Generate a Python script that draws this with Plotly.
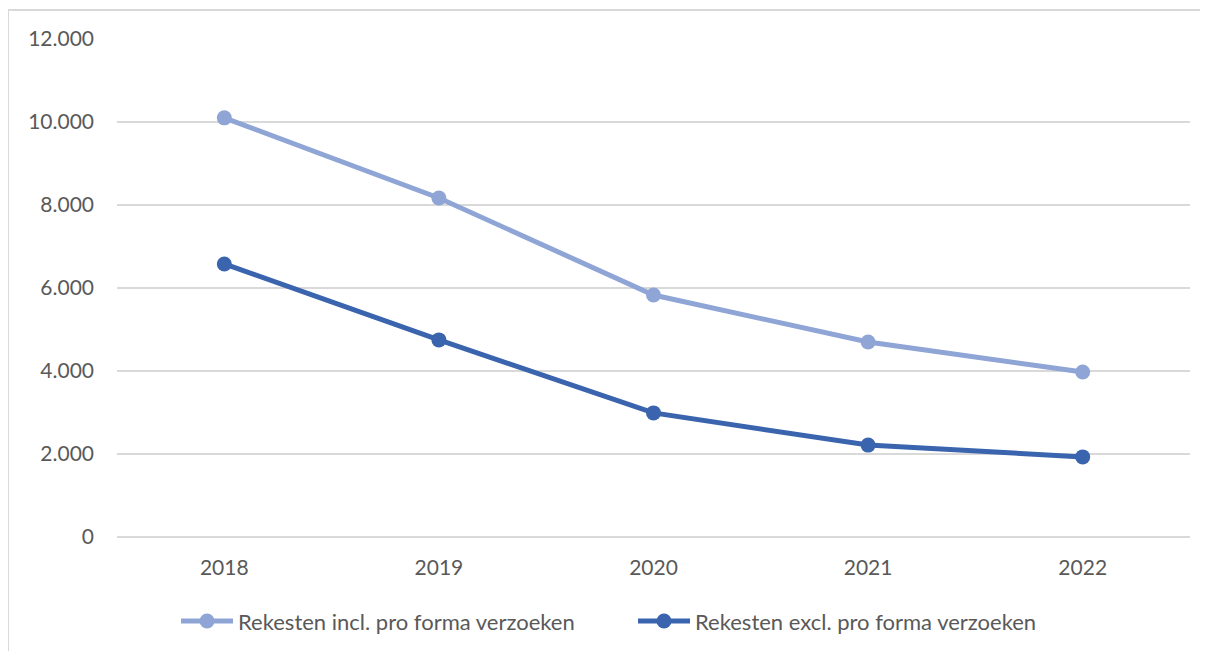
import plotly.graph_objects as go

years = ["2018", "2019", "2020", "2021", "2022"]
incl_pro_forma = [10100, 8170, 5830, 4700, 3975]
excl_pro_forma = [6580, 4750, 2990, 2215, 1930]
y_ticks = [0, 2000, 4000, 6000, 8000, 10000, 12000]
y_labels = ["0", "2.000", "4.000", "6.000", "8.000", "10.000", "12.000"]

fig = go.Figure()
fig.add_trace(go.Scatter(
    x=years, y=incl_pro_forma, mode="lines+markers",
    name="Rekesten incl. pro forma verzoeken",
    line=dict(color="#8FA5D6", width=5),
    marker=dict(size=15, color="#8FA5D6"),
))
fig.add_trace(go.Scatter(
    x=years, y=excl_pro_forma, mode="lines+markers",
    name="Rekesten excl. pro forma verzoeken",
    line=dict(color="#3A64AD", width=5),
    marker=dict(size=15, color="#3A64AD"),
))

# outer chart frame: only the left and top edges are on the page
frame = dict(color="#D9D9D9", width=2)
fig.add_shape(type="line", xref="paper", yref="paper",
              x0=-0.1016, x1=-0.1016, y0=-0.3, y1=1.058, line=frame, layer="below")
fig.add_shape(type="line", xref="paper", yref="paper",
              x0=-0.1016, x1=1.2, y0=1.058, y1=1.058, line=frame, layer="below")

fig.update_layout(
    width=1200, height=643,
    margin=dict(l=109, r=18, t=31, b=114, autoexpand=False),
    paper_bgcolor="white", plot_bgcolor="white",
    font=dict(family="Lato, Open Sans, sans-serif", size=21, color="#595959"),
    xaxis=dict(type="category", range=[-0.5, 4.5], showgrid=False,
               showline=False, ticks="", ticklabelstandoff=16),
    yaxis=dict(range=[0, 12000], tickvals=y_ticks, ticktext=y_labels,
               showgrid=True, gridcolor="#D9D9D9", gridwidth=1.5,
               zeroline=True, zerolinecolor="#D9D9D9", zerolinewidth=1.5,
               showline=False, ticks="", ticklabelstandoff=22),
    legend=dict(orientation="h", x=0.055, y=-0.127, xanchor="left", yanchor="top",
                font=dict(size=22, color="#595959"), itemwidth=52,
                entrywidth=390, tracegroupgap=0),
    showlegend=True,
)

fig.write_html("out.html")
